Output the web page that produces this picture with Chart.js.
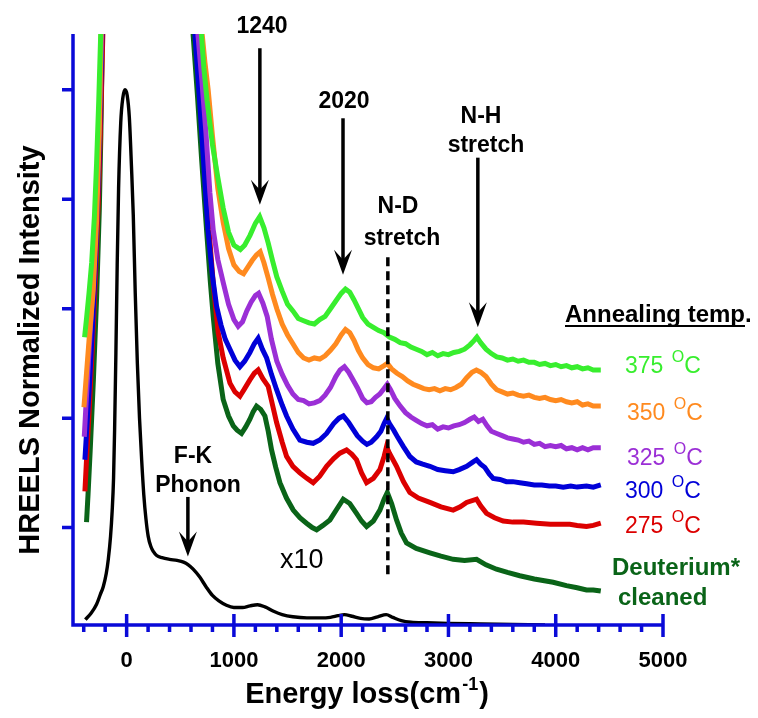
<!DOCTYPE html>
<html>
<head>
<meta charset="utf-8">
<script src="https://cdn.jsdelivr.net/npm/chart.js@4.4.0/dist/chart.umd.min.js"></script>
<style>
  html, body { margin: 0; padding: 0; background: #fff; }
</style>
</head>
<body>
<canvas id="hreels" width="758" height="718"></canvas>
<script>
// Energy loss (cm-1) and normalized intensity pairs.
// Colored traces are x10; points above the top of the axis are clipped off.
const elastic = [[-385,0.16],[-330,0.22],[-280,0.30],[-245,0.39],[-218,0.46],[-190,0.58],[-171,0.71],[-150,0.92],[-135,1.15],[-122,1.45],[-112,1.9],[-100,2.6],[-88,3.4],[-75,4.1],[-55,4.7],[-35,4.93],[-15,5.0],[5,4.95],[25,4.75],[45,4.3],[62,3.85],[80,3.15],[100,2.5],[120,2.0],[140,1.62],[160,1.3],[180,1.08],[201,0.92],[225,0.83],[250,0.78],[280,0.745],[330,0.725],[400,0.71],[470,0.70],[530,0.685],[575,0.66],[620,0.62],[680,0.55],[740,0.46],[800,0.38],[860,0.33],[930,0.29],[1000,0.27],[1080,0.27],[1150,0.285],[1220,0.295],[1290,0.275],[1370,0.235],[1450,0.205],[1550,0.185],[1680,0.175],[1800,0.175],[1900,0.18],[1970,0.195],[2030,0.205],[2100,0.19],[2180,0.17],[2260,0.165],[2340,0.185],[2420,0.205],[2480,0.18],[2560,0.15],[2650,0.135],[2800,0.13],[3000,0.125],[3300,0.12],[3600,0.115],[3900,0.11]];

const temp375 = [[-392,2.74],[-373,2.92],[-350,3.15],[-326,3.42],[-300,3.85],[-280,4.33],[-260,4.9],[-242,5.5],[-225,8],[650,8],[690,5.6],[720,5.2],[750,4.9],[800,4.5],[850,4.2],[900,3.92],[950,3.7],[1000,3.58],[1030,3.56],[1060,3.54],[1100,3.58],[1150,3.67],[1200,3.78],[1240,3.84],[1280,3.74],[1320,3.6],[1360,3.44],[1400,3.29],[1450,3.16],[1500,3.04],[1550,2.98],[1600,2.91],[1650,2.89],[1700,2.87],[1750,2.86],[1800,2.9],[1850,2.93],[1900,3.0],[1950,3.07],[2000,3.14],[2040,3.18],[2080,3.15],[2120,3.08],[2160,3.0],[2200,2.92],[2250,2.86],[2300,2.83],[2350,2.8],[2400,2.78],[2450,2.74],[2500,2.72],[2550,2.69],[2600,2.68],[2650,2.65],[2700,2.63],[2750,2.61],[2800,2.58],[2850,2.6],[2900,2.57],[2950,2.59],[3000,2.58],[3050,2.6],[3100,2.61],[3150,2.63],[3200,2.67],[3240,2.71],[3265,2.74],[3300,2.69],[3350,2.63],[3400,2.59],[3450,2.56],[3500,2.55],[3550,2.53],[3600,2.54],[3650,2.52],[3700,2.53],[3750,2.51],[3800,2.51],[3850,2.49],[3900,2.5],[3950,2.48],[4000,2.49],[4050,2.47],[4100,2.48],[4150,2.46],[4200,2.47],[4250,2.45],[4300,2.46],[4350,2.44],[4420,2.44]];

const temp350 = [[-398,2.10],[-375,2.40],[-350,2.72],[-311,3.17],[-280,3.8],[-255,4.6],[-238,5.5],[-215,8],[640,8],[700,5.55],[730,5.25],[760,5.0],[800,4.58],[850,4.1],[900,3.79],[950,3.55],[1000,3.40],[1050,3.34],[1090,3.32],[1130,3.38],[1170,3.44],[1210,3.49],[1245,3.52],[1280,3.42],[1320,3.28],[1360,3.13],[1400,3.0],[1450,2.86],[1500,2.76],[1550,2.68],[1600,2.6],[1650,2.55],[1700,2.53],[1750,2.55],[1800,2.54],[1850,2.57],[1900,2.62],[1950,2.68],[2000,2.76],[2040,2.81],[2080,2.78],[2120,2.71],[2160,2.62],[2200,2.55],[2250,2.49],[2300,2.46],[2350,2.45],[2400,2.48],[2430,2.50],[2470,2.45],[2520,2.41],[2570,2.38],[2620,2.34],[2670,2.31],[2720,2.29],[2770,2.27],[2820,2.26],[2870,2.27],[2920,2.25],[2970,2.27],[3020,2.26],[3070,2.28],[3120,2.31],[3170,2.37],[3220,2.42],[3260,2.44],[3300,2.42],[3350,2.38],[3400,2.31],[3450,2.26],[3500,2.24],[3550,2.22],[3600,2.23],[3650,2.21],[3700,2.20],[3750,2.21],[3800,2.19],[3850,2.18],[3900,2.19],[3950,2.17],[4000,2.16],[4050,2.17],[4100,2.15],[4150,2.14],[4200,2.15],[4250,2.12],[4300,2.13],[4350,2.11],[4420,2.11]];

const temp325 = [[-395,1.83],[-380,2.1],[-360,2.45],[-330,2.95],[-300,3.5],[-270,4.3],[-250,4.9],[-234,5.5],[-215,8],[620,8],[665,5.5],[700,5.1],[740,4.6],[776,4.06],[807,3.72],[850,3.45],[900,3.24],[950,3.04],[1000,2.9],[1040,2.84],[1080,2.88],[1120,2.98],[1160,3.06],[1200,3.12],[1230,3.14],[1270,3.05],[1310,2.93],[1350,2.72],[1400,2.52],[1450,2.40],[1500,2.30],[1550,2.22],[1600,2.17],[1650,2.16],[1700,2.13],[1750,2.14],[1800,2.16],[1850,2.21],[1900,2.28],[1950,2.38],[1990,2.44],[2030,2.47],[2070,2.42],[2110,2.35],[2150,2.28],[2200,2.18],[2240,2.14],[2280,2.15],[2320,2.19],[2360,2.22],[2400,2.27],[2430,2.31],[2460,2.26],[2500,2.18],[2550,2.11],[2600,2.05],[2650,2.01],[2700,1.98],[2750,1.95],[2800,1.93],[2850,1.94],[2900,1.90],[2950,1.92],[3000,1.91],[3050,1.93],[3100,1.94],[3150,1.96],[3200,1.99],[3240,2.01],[3280,1.97],[3320,1.99],[3360,1.93],[3400,1.88],[3450,1.86],[3500,1.84],[3550,1.82],[3600,1.81],[3650,1.80],[3700,1.78],[3750,1.79],[3800,1.76],[3850,1.77],[3900,1.74],[3950,1.75],[4000,1.74],[4050,1.75],[4100,1.72],[4150,1.73],[4200,1.71],[4250,1.73],[4300,1.71],[4350,1.73],[4420,1.73]];

const temp300 = [[-389,1.62],[-375,1.85],[-350,2.25],[-320,2.8],[-290,3.45],[-260,4.3],[-230,5.5],[-210,8],[600,8],[637,5.5],[680,4.9],[720,4.3],[758,3.72],[800,3.3],[839,3.02],[880,2.85],[920,2.72],[963,2.63],[1010,2.53],[1056,2.47],[1100,2.52],[1149,2.60],[1190,2.68],[1226,2.73],[1265,2.63],[1305,2.55],[1350,2.40],[1398,2.26],[1450,2.12],[1491,2.02],[1550,1.90],[1615,1.80],[1680,1.78],[1739,1.77],[1800,1.80],[1864,1.86],[1930,1.95],[1980,2.00],[2020,2.02],[2070,1.96],[2110,1.90],[2150,1.84],[2200,1.79],[2240,1.76],[2280,1.78],[2330,1.83],[2370,1.88],[2400,1.95],[2425,2.00],[2450,1.95],[2490,1.89],[2530,1.82],[2580,1.74],[2640,1.65],[2700,1.60],[2760,1.58],[2827,1.56],[2900,1.53],[2970,1.52],[3044,1.51],[3100,1.53],[3170,1.56],[3230,1.60],[3262,1.62],[3300,1.58],[3339,1.55],[3380,1.49],[3417,1.45],[3480,1.44],[3540,1.42],[3600,1.42],[3665,1.41],[3730,1.40],[3800,1.39],[3870,1.39],[3940,1.38],[4000,1.38],[4070,1.37],[4140,1.38],[4200,1.37],[4287,1.38],[4350,1.37],[4420,1.39]];

const temp275 = [[-389,1.33],[-375,1.6],[-350,2.05],[-320,2.65],[-290,3.3],[-260,4.1],[-240,4.8],[-222,5.5],[-200,8],[610,8],[655,5.5],[700,4.85],[740,4.25],[768,3.72],[810,3.2],[854,2.78],[900,2.55],[963,2.32],[1010,2.24],[1056,2.20],[1100,2.27],[1149,2.35],[1190,2.41],[1226,2.44],[1270,2.36],[1320,2.29],[1360,2.12],[1398,1.96],[1450,1.78],[1491,1.65],[1550,1.56],[1615,1.50],[1680,1.45],[1739,1.41],[1800,1.47],[1864,1.56],[1930,1.63],[1988,1.68],[2050,1.71],[2100,1.67],[2143,1.62],[2190,1.50],[2237,1.41],[2300,1.45],[2361,1.53],[2400,1.65],[2423,1.74],[2450,1.68],[2516,1.56],[2580,1.42],[2640,1.32],[2720,1.27],[2827,1.23],[2930,1.19],[3044,1.16],[3110,1.19],[3169,1.23],[3262,1.26],[3300,1.20],[3355,1.13],[3430,1.09],[3510,1.06],[3600,1.05],[3700,1.05],[3821,1.04],[3950,1.03],[4050,1.03],[4131,1.03],[4200,1.02],[4287,1.01],[4350,1.02],[4420,1.04]];

const deuterium = [[-374,1.05],[-360,1.3],[-340,1.7],[-310,2.35],[-280,3.1],[-255,3.9],[-240,4.6],[-226,5.5],[-205,8],[580,8],[620,5.5],[660,4.95],[700,4.35],[745,3.72],[780,3.25],[807,2.93],[850,2.5],[900,2.17],[950,2.02],[994,1.93],[1030,1.89],[1071,1.86],[1110,1.92],[1149,1.99],[1180,2.06],[1211,2.11],[1250,2.08],[1289,2.02],[1320,1.88],[1351,1.71],[1390,1.55],[1429,1.41],[1490,1.27],[1553,1.16],[1615,1.09],[1677,1.04],[1730,1.0],[1771,0.98],[1830,1.02],[1895,1.07],[1960,1.17],[2019,1.26],[2080,1.22],[2143,1.13],[2190,1.06],[2237,1.01],[2300,1.06],[2361,1.16],[2400,1.26],[2430,1.32],[2470,1.22],[2516,1.07],[2560,0.95],[2609,0.86],[2700,0.81],[2827,0.77],[2930,0.74],[3044,0.71],[3150,0.70],[3262,0.71],[3350,0.66],[3448,0.62],[3550,0.59],[3665,0.56],[3800,0.53],[3976,0.50],[4100,0.47],[4200,0.45],[4287,0.43],[4350,0.43],[4420,0.42]];

const xTickValues = [0, 1000, 2000, 3000, 4000, 5000];
const xTickLabels = ["0", "1000", "2000", "3000", "4000", "5000"];
const yTickValues = [1, 2, 3, 4, 5];

const FONT = "'Liberation Sans', Arial, sans-serif";
const AXIS_BLUE = "#0a0ad8";

const series = [
  { label: "F-K / elastic", data: elastic, color: "#000000", width: 3.4 },
  { label: "375 C", data: temp375, color: "#38ee2e", width: 5 },
  { label: "350 C", data: temp350, color: "#ff8a1f", width: 5 },
  { label: "325 C", data: temp325, color: "#9b2fd6", width: 5 },
  { label: "300 C", data: temp300, color: "#0000d8", width: 5 },
  { label: "275 C", data: temp275, color: "#dc0000", width: 5 },
  { label: "Deuterium cleaned", data: deuterium, color: "#0a6418", width: 5 }
];

const toPoints = (pairs) => pairs.map(([x, y]) => ({ x, y }));

const text = (ctx, s, x, y, font, color, align) => {
  ctx.font = font;
  ctx.fillStyle = color;
  ctx.textAlign = align || "center";
  ctx.textBaseline = "alphabetic";
  ctx.fillText(s, x, y);
};

const tempLabel = (ctx, num, x, y, color) => {
  const big = "23px " + FONT;
  ctx.font = big;
  const w = ctx.measureText(num + " ").width;
  text(ctx, num + " ", x, y, big, color, "left");
  text(ctx, "O", x + w + 2, y - 11, "16px " + FONT, color, "left");
  ctx.font = "16px " + FONT;
  const wo = ctx.measureText("O").width;
  text(ctx, "C", x + w + wo + 2, y, big, color, "left");
};

const arrow = (ctx, xs, ys, xv, yTop, yTip) => {
  const px = xs.getPixelForValue(xv);
  const top = ys.getPixelForValue(yTop);
  const tip = ys.getPixelForValue(yTip);
  ctx.strokeStyle = "#000";
  ctx.lineWidth = 3.5;
  ctx.beginPath();
  ctx.moveTo(px, top);
  ctx.lineTo(px, tip - 10);
  ctx.stroke();
  ctx.fillStyle = "#000";
  ctx.beginPath();
  ctx.moveTo(px, tip);
  ctx.lineTo(px - 9, tip - 25);
  ctx.lineTo(px, tip - 15);
  ctx.lineTo(px + 9, tip - 25);
  ctx.closePath();
  ctx.fill();
};

const decorations = {
  id: "decorations",
  afterDatasetsDraw(chart) {
    const { ctx, chartArea: a, scales: { x, y } } = chart;
    ctx.save();

    // axes, ticks on the outside, major x ticks cross the axis
    ctx.strokeStyle = AXIS_BLUE;
    ctx.lineWidth = 3.5;
    ctx.beginPath();
    ctx.moveTo(a.left, a.top);
    ctx.lineTo(a.left, a.bottom + 1.75);
    ctx.moveTo(a.left, a.bottom);
    ctx.lineTo(a.right, a.bottom);
    xTickValues.forEach((v) => {
      const px = x.getPixelForValue(v);
      ctx.moveTo(px, a.bottom - 11);
      ctx.lineTo(px, a.bottom + 12);
    });
    for (let v = -400; v < 5000; v += 200) {
      if (v % 1000 === 0) continue;
      const px = x.getPixelForValue(v);
      ctx.moveTo(px, a.bottom);
      ctx.lineTo(px, a.bottom + 7);
    }
    yTickValues.forEach((v) => {
      const py = y.getPixelForValue(v);
      ctx.moveTo(a.left - 11, py);
      ctx.lineTo(a.left, py);
    });
    ctx.stroke();

    // peak markers
    const bold = "bold 23px " + FONT;
    arrow(ctx, x, y, 1242, 5.38, 3.95);
    text(ctx, "1240", 262, 33, bold, "#000");
    arrow(ctx, x, y, 2017, 4.74, 3.31);
    text(ctx, "2020", 344, 108, bold, "#000");
    arrow(ctx, x, y, 3274, 4.38, 2.83);
    text(ctx, "N-H", 481, 123, bold, "#000");
    text(ctx, "stretch", 486, 152, bold, "#000");
    arrow(ctx, x, y, 571, 1.28, 0.735);
    text(ctx, "F-K", 193, 463, bold, "#000");
    text(ctx, "Phonon", 198, 492, bold, "#000");

    // N-D stretch dashed marker
    ctx.strokeStyle = "#000";
    ctx.lineWidth = 3.5;
    ctx.setLineDash([9, 5]);
    ctx.beginPath();
    const dx = x.getPixelForValue(2435);
    ctx.moveTo(dx, y.getPixelForValue(3.47));
    ctx.lineTo(dx, y.getPixelForValue(0.55));
    ctx.stroke();
    ctx.setLineDash([]);
    text(ctx, "N-D", 398, 213, bold, "#000");
    text(ctx, "stretch", 402, 245, bold, "#000");

    text(ctx, "x10", 280, 568, "27px " + FONT, "#000", "left");

    // legend-like labels
    text(ctx, "Annealing temp.", 565, 322, "bold 24px " + FONT, "#000", "left");
    ctx.fillStyle = "#000";
    ctx.fillRect(565, 325, 180, 2);
    tempLabel(ctx, "375", 625, 373, series[1].color);
    tempLabel(ctx, "350", 627, 420, series[2].color);
    tempLabel(ctx, "325", 627, 465, series[3].color);
    tempLabel(ctx, "300", 625, 498, series[4].color);
    tempLabel(ctx, "275", 625, 533, series[5].color);
    text(ctx, "Deuterium*", 612, 575, "bold 24px " + FONT, series[6].color, "left");
    text(ctx, "cleaned", 618, 605, "bold 24px " + FONT, series[6].color, "left");

    // axis titles
    const tFont = "bold 29px " + FONT;
    ctx.font = tFont;
    const main = "Energy loss(cm";
    const wMain = ctx.measureText(main).width;
    ctx.font = "bold 18px " + FONT;
    const wSup = ctx.measureText("-1").width;
    ctx.font = tFont;
    const wClose = ctx.measureText(")").width;
    const start = 366 - (wMain + wSup + wClose) / 2;
    text(ctx, main, start, 703, tFont, "#000", "left");
    text(ctx, "-1", start + wMain + 1, 690, "bold 18px " + FONT, "#000", "left");
    text(ctx, ")", start + wMain + wSup + 2, 703, tFont, "#000", "left");

    ctx.translate(39, 350);
    ctx.rotate(-Math.PI / 2);
    text(ctx, "HREELS Normalized Intensity", 0, 0, tFont, "#000", "center");
    ctx.restore();
  }
};

new Chart(document.getElementById("hreels"), {
  type: "line",
  data: {
    datasets: series.map((s) => ({
      label: s.label,
      data: toPoints(s.data),
      borderColor: s.color,
      borderWidth: s.width,
      pointRadius: 0,
      tension: 0,
      cubicInterpolationMode: s.color === "#000000" ? "monotone" : "default",
      fill: false
    }))
  },
  options: {
    responsive: false,
    animation: false,
    devicePixelRatio: 1,
    layout: { padding: { top: 34, right: 95, left: 73, bottom: 0 } },
    plugins: { legend: { display: false }, tooltip: { enabled: false } },
    scales: {
      x: {
        type: "linear",
        min: -500,
        max: 5000,
        afterBuildTicks: (s) => { s.ticks = xTickValues.map((v) => ({ value: v })); },
        afterFit: (s) => { s.height = 93; },
        ticks: {
          callback: (v) => xTickLabels[xTickValues.indexOf(v)],
          font: { family: FONT, size: 22, weight: "bold" },
          color: "#000",
          padding: 23,
          maxRotation: 0
        },
        grid: { display: false, drawTicks: false },
        border: { display: false }
      },
      y: {
        type: "linear",
        display: false,
        min: 0.11,
        max: 5.51
      }
    }
  },
  plugins: [decorations]
});
</script>
</body>
</html>
